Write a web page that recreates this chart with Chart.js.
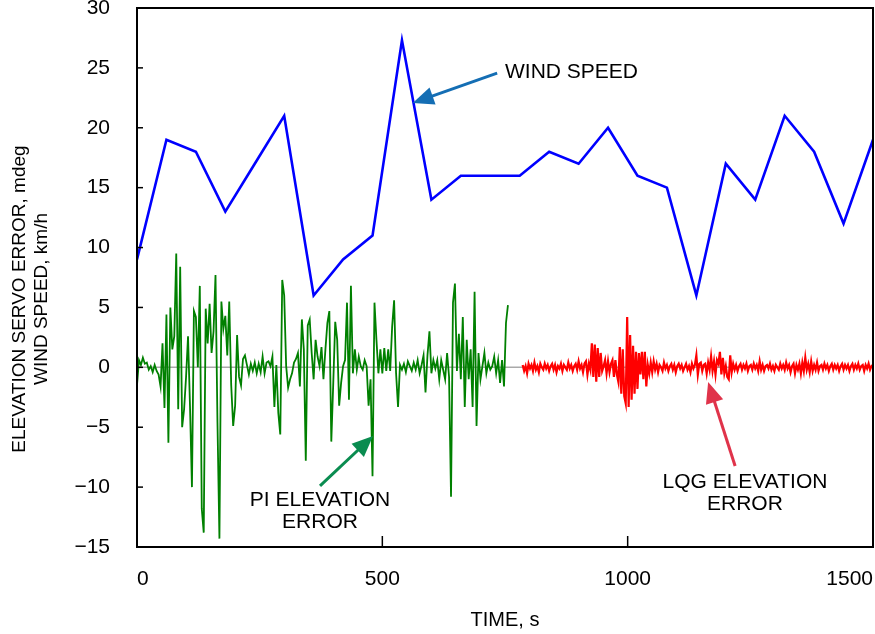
<!DOCTYPE html>
<html><head><meta charset="utf-8">
<script src="https://cdn.jsdelivr.net/npm/chart.js@4/dist/chart.umd.min.js"></script>
<style>html,body{margin:0;padding:0;background:#fff}canvas{display:block}</style>
</head><body>
<canvas id="c" width="875" height="634"></canvas>
<script>
// ---- data ----
const windTime  = [0,60,120,180,240,300,360,420,480,540,600,660,720,780,840,900,960,1020,1080,1140,1200,1260,1320,1380,1440,1500];
const windSpeed = [9,19,18,13,17,21,6,9,11,27.3,14,16,16,16,18,17,20,16,15,6,17,14,21,18,12,19];

// PI elevation error, sampled every 4 s from t = 0
const piStart = 0, piStep = 4;
const piError = [
 -1.5,0.6,0.2,0.8,0.3,0.4,-0.2,0.1,-0.4,0.2,-0.3,-0.6,
 -1.6,2.0,-3.4,4.4,-6.3,5.0,1.5,2.6,9.5,-3.5,8.4,-5.0,
 -3.5,-0.8,2.6,-3.2,-10.0,4.7,4.2,0.0,6.8,-11.8,-13.8,4.9,
 2.0,5.3,1.2,3.0,7.7,-4.6,-14.3,5.5,3.2,4.3,1.0,5.5,
 -1.5,-4.9,-3.2,2.7,-0.8,-1.5,0.7,1.0,0.2,-0.6,0.3,-0.3,0.4,-0.5,
 0.3,-0.4,0.9,-0.5,0.4,0.5,0.1,0.9,-3.3,0.2,-3.8,-5.6,
 7.3,6.0,0.1,-1.7,-1.0,-0.5,0.4,0.7,1.2,-1.6,4.0,1.5,
 -7.8,3.5,4.0,1.2,-1.0,2.3,0.9,0.1,1.7,-1.0,1.5,3.7,
 4.7,-6.2,-1.3,3.8,2.3,-3.2,-1.3,0.1,0.6,5.4,-2.7,6.8,
 -0.5,1.5,-0.2,0.9,0.1,-0.2,0.6,0.1,-3.2,-1.0,-9.1,5.4,2.3,-0.5,
 1.5,-0.5,1.6,-0.3,1.5,-0.3,3.4,5.6,-0.5,-3.3,0.2,-0.2,
 0.3,-0.4,0.5,0.1,-0.3,0.4,-0.2,0.6,-0.5,0.2,1.0,-2.1,
 1.0,3.0,-0.5,0.6,-0.1,0.6,-1.0,0.6,-0.2,-1.0,1.2,-0.8,
 -10.8,5.4,7.0,-0.3,2.8,-1.0,4.2,-3.3,2.3,-1.0,1.5,-3.3,
 6.3,-4.9,1.2,-1.0,0.1,1.2,-0.5,0.4,-0.2,0.1,0.9,-0.5,
 0.6,-1.3,0.6,-1.6,3.7,5.2
];

// LQG elevation error, sampled every 3 s from t = 786
const lqgStart = 786, lqgStep = 3;
const lqgError = [
 0.2,-0.3,0.1,-0.5,0.3,-0.1,0.2,-0.3,0.4,-0.2,
 0.1,-0.4,0.3,0.0,-0.2,0.3,-0.1,0.2,-0.3,0.1,
 0.3,-0.2,0.2,-0.4,0.1,-0.1,0.3,-0.3,0.2,0.0,
 -0.2,0.4,-0.1,0.2,-0.3,0.1,0.3,-0.2,0.5,-0.1,
 0.2,-0.4,0.3,
 0.5,-0.6,0.3,-0.2,2.0,-0.8,1.9,-1.2,1.6,-0.8,
 1.2,-0.3,0.1,0.6,-0.5,0.5,-0.4,0.3,0.6,-0.8,
 0.6,-0.6,-1.2,1.7,-2.2,1.5,-2.4,-3.0,4.2,-3.3,
 2.7,-2.7,1.8,-2.2,1.3,-1.8,1.2,-0.6,1.3,-1.0,
 1.3,-1.6,0.2,-0.5,0.4,-0.4,0.5,
 -0.2,0.3,-0.4,0.2,0.0,-0.3,0.4,-0.1,0.2,-0.3,
 0.1,0.3,-0.2,0.2,-0.4,0.1,0.3,-0.1,0.2,-0.3,
 0.0,0.3,-0.2,0.1,-0.4,0.3,-0.1,0.2,
 1.0,-0.6,0.3,0.4,-0.3,0.2,0.3,-0.5,0.4,-0.2,
 0.9,-0.3,0.5,-0.6,0.6,0.3,1.3,-0.6,0.8,-0.5,
 0.1,-0.8,
 -1.0,1.0,-0.4,0.3,-0.2,0.2,-0.3,0.1,0.3,-0.2,
 0.2,-0.1,0.3,-0.3,0.1,0.2,-0.2,0.3,-0.1,0.2,
 -0.3,0.5,-0.2,0.2,-0.3,0.1,0.2,-0.1,0.3,-0.2,
 0.1,-0.3,0.2,0.0,-0.2,0.3,-0.1,0.2,-0.2,0.4,
 -0.1,0.2,-0.4,0.1,0.3,-0.5,0.2,-0.2,0.3,-0.5,
 0.4,-0.3,0.8,-0.2,0.3,-0.4,0.5,-0.3,0.2,-0.2,
 0.4,-0.3,0.1,0.2,-0.2,0.3,-0.1,0.2,-0.3,0.1,
 0.3,-0.2,0.2,-0.1,0.2,-0.3,0.1,0.3,-0.2,0.2,
 -0.1,0.2,-0.3,0.1,0.3,-0.2,0.2,-0.1,0.3,-0.2,
 0.1,0.2,-0.3,0.2,-0.1,0.3,-0.2,0.1,0.0
];

const xTicks = [0,500,1000,1500];
const yTicks = [-15,-10,-5,0,5,10,15,20,25,30];

const xTitle = 'TIME, s';
const yTitle = ['ELEVATION SERVO ERROR, mdeg', 'WIND SPEED, km/h'];

// annotation anchors in data units
const notes = [
  {lines:['WIND SPEED'], x:750, y:24.66, align:'left', color:'#146eb4', from:{x:734,y:24.57}, to:{x:562,y:22.07}},
  {lines:['PI ELEVATION','ERROR'], x:373, y:-11.08, align:'center', color:'#0a8c50', from:{x:373,y:-9.9}, to:{x:481,y:-5.73}},
  {lines:['LQG ELEVATION','ERROR'], x:1239, y:-9.57, align:'center', color:'#e0334a', from:{x:1219,y:-8.24}, to:{x:1164,y:-1.22}}
];

// ---- build datasets ----
const windPts = windTime.map((t,i)=>({x:t, y:windSpeed[i]}));
const piPts = piError.map((v,i)=>({x:piStart + i*piStep, y:v}));
const lqgPts = lqgError.map((v,i)=>({x:lqgStart + i*lqgStep, y:v}));

const FONT = '"Liberation Sans", Arial, Helvetica, sans-serif';
const minus = v => v < 0 ? '\u2212' + Math.abs(v) : String(v);

function arrow(ctx, x1, y1, x2, y2, color) {
  const ang = Math.atan2(y2 - y1, x2 - x1);
  const L = 21, W = 9;
  const bx = x2 - L * Math.cos(ang), by = y2 - L * Math.sin(ang);
  ctx.strokeStyle = color; ctx.lineWidth = 3; ctx.lineCap = 'butt';
  ctx.beginPath(); ctx.moveTo(x1, y1); ctx.lineTo(bx + 2*Math.cos(ang), by + 2*Math.sin(ang)); ctx.stroke();
  ctx.fillStyle = color;
  ctx.beginPath(); ctx.moveTo(x2, y2);
  ctx.lineTo(bx + W * Math.sin(ang), by - W * Math.cos(ang));
  ctx.lineTo(bx - W * Math.sin(ang), by + W * Math.cos(ang));
  ctx.closePath(); ctx.fill();
}

const decor = {
  id: 'decor',
  beforeDatasetsDraw(chart) {
    const {ctx, chartArea: a, scales: {y}} = chart;
    const y0 = y.getPixelForValue(0);
    ctx.save();
    ctx.strokeStyle = '#a9a9a9'; ctx.lineWidth = 1.5;
    ctx.beginPath(); ctx.moveTo(a.left, y0); ctx.lineTo(a.right, y0); ctx.stroke();
    ctx.restore();
  },
  afterDraw(chart) {
    const {ctx, chartArea: a, scales: {x, y}} = chart;
    ctx.save();
    // frame
    ctx.strokeStyle = '#000'; ctx.lineWidth = 2;
    ctx.strokeRect(a.left, a.top, a.right - a.left, a.bottom - a.top);
    // inward tick marks
    ctx.lineWidth = 1.5;
    yTicks.forEach(v => {
      const p = y.getPixelForValue(v);
      ctx.beginPath(); ctx.moveTo(a.left, p); ctx.lineTo(a.left + 6, p); ctx.stroke();
    });
    xTicks.forEach(v => {
      const p = x.getPixelForValue(v);
      ctx.beginPath(); ctx.moveTo(p, a.bottom); ctx.lineTo(p, a.bottom - 11); ctx.stroke();
    });
    // axis titles
    ctx.fillStyle = '#000';
    ctx.textAlign = 'center'; ctx.textBaseline = 'middle';
    ctx.font = '20px ' + FONT;
    ctx.fillText(xTitle, (a.left + a.right) / 2, 620);
    ctx.font = '19px ' + FONT;
    yTitle.forEach((t, i) => {
      ctx.save();
      ctx.translate(20 + i * 22, 299);
      ctx.rotate(-Math.PI / 2);
      ctx.fillText(t, 0, 0);
      ctx.restore();
    });
    // annotations
    notes.forEach(n => {
      arrow(ctx, x.getPixelForValue(n.from.x), y.getPixelForValue(n.from.y),
                 x.getPixelForValue(n.to.x), y.getPixelForValue(n.to.y), n.color);
      ctx.fillStyle = '#000';
      ctx.font = '21px ' + FONT;
      ctx.textAlign = n.align; ctx.textBaseline = 'middle';
      const px = x.getPixelForValue(n.x), py = y.getPixelForValue(n.y);
      n.lines.forEach((l, i) => ctx.fillText(l, px, py + i * 22));
    });
    ctx.restore();
  }
};

new Chart(document.getElementById('c'), {
  type: 'line',
  data: {
    datasets: [
      {data: windPts, borderColor: '#0000ff', borderWidth: 2.6, pointRadius: 0, tension: 0, order: 1},
      {data: piPts, borderColor: '#008000', borderWidth: 1.8, pointRadius: 0, tension: 0, order: 2},
      {data: lqgPts, borderColor: '#ff0000', borderWidth: 2.2, pointRadius: 0, tension: 0, order: 3}
    ]
  },
  options: {
    responsive: false,
    animation: false,
    events: [],
    layout: {padding: {top: 8, right: 2, left: 0, bottom: 0}},
    plugins: {legend: {display: false}, tooltip: {enabled: false}},
    scales: {
      x: {
        type: 'linear', min: 0, max: 1500,
        afterBuildTicks: s => { s.ticks = xTicks.map(v => ({value: v})); },
        afterFit: s => { s.height = 87; s.paddingLeft = 0; s.paddingRight = 0; },
        grid: {display: false, drawTicks: false},
        border: {display: false},
        ticks: {color: '#000', font: {family: FONT, size: 21}, padding: 20, align: 'inner', maxRotation: 0, autoSkip: false, callback: v => String(v)}
      },
      y: {
        type: 'linear', min: -15, max: 30,
        afterBuildTicks: s => { s.ticks = yTicks.map(v => ({value: v})); },
        afterFit: s => { s.width = 137; s.paddingTop = 0; s.paddingBottom = 0; },
        grid: {display: false, drawTicks: false},
        border: {display: false},
        ticks: {color: '#000', font: {family: FONT, size: 21}, padding: 27, callback: v => minus(v)}
      }
    }
  },
  plugins: [decor]
});
</script>
</body></html>
